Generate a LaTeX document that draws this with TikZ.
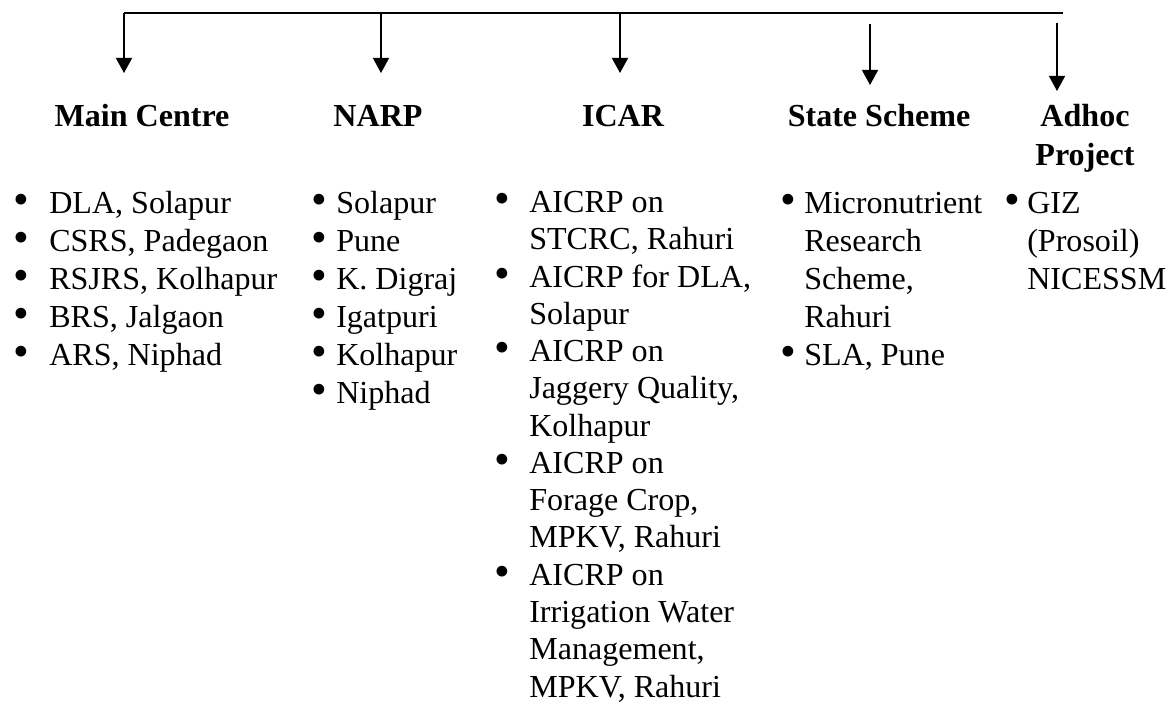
\documentclass[tikz,border=0pt]{standalone}
\usepackage{fontspec}
\setmainfont{Liberation Serif}
\usetikzlibrary{arrows.meta}
\newcommand{\bul}[1]{\llap{\raisebox{-0.8pt}{\smash{\scalebox{1.4}{\textbullet}}}\hspace{#1}}}
\tikzset{
  hd/.style={font=\fontsize{22.8pt}{27.7pt}\selectfont\bfseries, align=center, inner sep=0pt, anchor=base},
  lst/.style={font=\fontsize{22.8pt}{27pt}\selectfont, align=left, inner sep=0pt, anchor=base west},
  arr/.style={line width=1pt, -{Triangle[length=10.7pt,width=11.4pt]}}
}
\begin{document}
\begin{tikzpicture}[x=0.025cm, y=-0.025cm]
\useasboundingbox (0,0) rectangle (1168,704);
% bus line and arrows
\coordinate (busL) at (124,13);
\coordinate (busR) at (1063,13);
\draw[line width=1.2pt] (busL) -- (busR);
\foreach \i/\x/\ys/\ye in {1/124/13/73, 2/381/13/73, 3/620/13/73, 4/870/24/85, 5/1057/23/91}
{
\coordinate (top\i) at (\x,\ys);
\coordinate (tip\i) at (\x,\ye);
\draw[arr] (top\i) -- (tip\i);
}
% headings (base = last line)
\node[hd] (mainhd) at (142,126) {Main Centre};
\node[hd] (narphd) at (378,126) {NARP};
\node[hd] (icarhd) at (623,126) {ICAR};
\node[hd] (statehd) at (879,126) {State Scheme};
\node[hd] (adhochd) at (1085,165) {Adhoc\\Project};
% lists, placed by the baseline of their last line
\node[lst] (mainlst) at (49,365) {\bul{14.4pt}DLA, Solapur\\
\bul{14.4pt}CSRS, Padegaon\\
\bul{14.4pt}RSJRS, Kolhapur\\
\bul{14.4pt}BRS, Jalgaon\\
\bul{14.4pt}ARS, Niphad};
\node[lst] (narplst) at (336,403) {\bul{6.5pt}Solapur\\
\bul{6.5pt}Pune\\
\bul{6.5pt}K. Digraj\\
\bul{6.5pt}Igatpuri\\
\bul{6.5pt}Kolhapur\\
\bul{6.5pt}Niphad};
\node[lst, font=\fontsize{22.8pt}{26.5pt}\selectfont] (icarlst) at (529,697) {\bul{13.7pt}AICRP on\\
STCRC, Rahuri\\
\bul{13.7pt}AICRP for DLA,\\
Solapur\\
\bul{13.7pt}AICRP on\\
Jaggery Quality,\\
Kolhapur\\
\bul{13.7pt}AICRP on\\
Forage Crop,\\
MPKV, Rahuri\\
\bul{13.7pt}AICRP on\\
Irrigation Water\\
Management,\\
MPKV, Rahuri};
\node[lst] (statelst) at (804,365) {\bul{5.8pt}Micronutrient\\
Research\\
Scheme,\\
Rahuri\\
\bul{5.8pt}SLA, Pune};
\node[lst] (adhoclst) at (1027,289) {\bul{5.1pt}GIZ\\
(Prosoil)\\
NICESSM};
\end{tikzpicture}
\end{document}
